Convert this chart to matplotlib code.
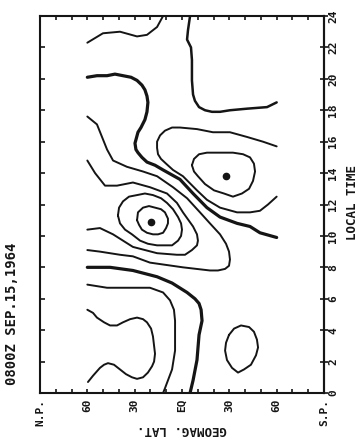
import matplotlib
matplotlib.use("Agg")
import matplotlib.pyplot as plt
import numpy as np

# Contours: geomagnetic latitude (deg, + north), local time (h)
lat_a = [60, 50.1, 39.3, 28.5, 22.2, 15.8, 12.0]
lt_a = [22.3, 22.9, 23.0, 22.7, 22.8, 23.3, 24.0]

lat_b = [60, 53.9, 47.5, 42.5, 37.4, 32.3, 28.5, 25.4, 23.5, 22.2, 21.6, 22.2, 23.5,
         26.0, 27.9, 29.8, 29.2, 27.9, 25.4, 22.2, 17.1, 12.0, 1.3,
         -7.0, -15.8, -24.1, -34.9, -43.1, -49.4, -60]
lt_b = [20.1, 20.2, 20.2, 20.3, 20.2, 20.1, 19.9, 19.6, 19.3, 18.9, 18.5, 17.9, 17.4,
        16.9, 16.6, 15.9, 15.5, 15.3, 15.0, 14.7, 14.5, 14.2, 13.6,
        12.7, 11.8, 11.2, 10.8, 10.6, 10.2, 9.9]

lat_c = [60, 53.9, 50.7, 47.5, 43.7, 34.9, 24.7, 15.8, 5.7, -3.2, -11.4, -17.7, -24.1,
         -27.9, -29.8, -30.4, -29.8, -27.3, -22.8, -17.7, -0.6, 20.3, 31.1, 39.3, 52.0, 60]
lt_c = [17.6, 17.1, 16.3, 15.5, 14.8, 14.4, 14.1, 13.8, 13.1, 12.4, 11.5, 10.8, 10.1,
        9.5, 9.0, 8.5, 8.1, 7.9, 7.8, 7.8, 8.0, 8.3, 8.7, 8.8, 9.0, 9.1]

lat_d = [60, 55.1, 48.8, 41.2, 31.1, 20.3, 9.5, 3.2, -0.6, -7.0, -9.5, -10.1, -9.5,
         -6.3, -1.9, 3.2, 15.8, 31.1, 43.7, 52.0, 60]
lt_d = [14.8, 14.0, 13.2, 13.2, 13.4, 13.1, 12.7, 12.1, 11.5, 10.6, 10.1, 9.7, 9.4,
        9.1, 8.8, 8.8, 8.9, 9.3, 10.1, 10.5, 10.4]

lat_e = [-60, -51.3, -41.2, -30.4, -19.6, -9.5, 1.3, 6.3, 10.8, 13.9, 15.8, 15.8, 15.2,
         13.3, 10.1, 5.7, -0.6, -9.5, -15.8, -24.1, -34.9, -43.1, -49.4, -54.5, -60]
lt_e = [15.7, 16.0, 16.3, 16.6, 16.6, 16.8, 16.9, 16.9, 16.7, 16.4, 16.0, 15.6, 15.2,
        14.9, 14.6, 14.2, 13.8, 12.9, 12.3, 11.8, 11.5, 11.5, 11.6, 12.0, 12.5]

lat_f = [-5.1, -3.8, -3.2, -5.7, -6.3, -6.3, -7.0, -8.2, -10.8, -14.6, -19.0, -24.1,
         -30.4, -41.2, -53.9, -60]
lt_f = [24.0, 23.1, 22.5, 22.0, 21.2, 19.9, 19.0, 18.6, 18.2, 18.0, 17.9, 17.9,
        18.0, 18.1, 18.2, 18.5]

lat_i = [60, 45.6, 31.1, 15.8, 6.3, -3.2, -8.2, -10.8, -12.1, -12.7, -10.8, -9.5, -7.0, -5.1]
lt_i = [8.0, 8.0, 7.8, 7.4, 7.0, 6.4, 6.0, 5.7, 5.3, 4.6, 3.7, 2.1, 0.8, 0.0]

lat_j = [60, 47.5, 34.9, 20.3, 12.0, 7.6, 5.1, 4.4, 4.4, 6.3, 10.8, 12.0]
lt_j = [6.9, 6.7, 6.7, 6.7, 6.4, 5.9, 5.3, 4.6, 2.7, 1.5, 0.3, 0.0]

lat_k = [60, 56.4, 53.9, 49.4, 45.6, 41.2, 37.4, 32.9, 28.5, 24.7, 22.2, 19.6, 18.4,
         17.1, 17.7, 19.0, 21.6, 24.7, 28.5, 31.7, 35.5, 39.3, 43.1, 46.9, 49.4, 52.0,
         56.4, 59.6]
lt_k = [5.3, 5.1, 4.8, 4.5, 4.3, 4.3, 4.5, 4.7, 4.8, 4.7, 4.5, 4.1, 3.6,
        2.5, 2.0, 1.7, 1.3, 1.0, 0.9, 1.0, 1.2, 1.5, 1.8, 1.9, 1.8, 1.6,
        1.1, 0.7]

# closed loops
lat_loop1 = [40.6, 39.9, 37.4, 33.6, 28.5, 23.5, 18.4, 13.3, 9.5, 5.7, 2.5, 0.6, 0.0,
             0.6, 2.5, 6.3, 10.8, 15.8, 21.6, 26.6, 31.7, 36.1, 39.3, 40.6]
lt_loop1 = [11.3, 11.8, 12.2, 12.5, 12.6, 12.7, 12.6, 12.4, 12.1, 11.7, 11.2, 10.8, 10.4,
            10.0, 9.7, 9.4, 9.4, 9.4, 9.5, 9.7, 10.1, 10.4, 10.8, 11.3]

lat_loop2 = [28.5, 27.9, 24.7, 20.9, 17.1, 13.3, 10.8, 8.9, 8.9, 10.1, 12.0, 15.2,
             18.4, 22.2, 25.4, 27.2, 28.5]
lt_loop2 = [11.0, 11.5, 11.8, 11.9, 11.8, 11.7, 11.5, 11.1, 10.8, 10.5, 10.2, 10.1,
            10.1, 10.2, 10.4, 10.7, 11.0]

lat_loop3 = [-6.3, -7.6, -10.8, -15.8, -24.1, -32.3, -38.7, -43.1, -45.6, -46.3, -45.0,
             -42.5, -38.0, -32.3, -26.6, -20.3, -14.6, -10.1, -7.6, -6.3]
lt_loop3 = [14.5, 14.9, 15.2, 15.3, 15.3, 15.3, 15.2, 15.0, 14.6, 14.1, 13.5,
            13.0, 12.7, 12.5, 12.7, 12.9, 13.3, 13.8, 14.1, 14.5]

lat_loop4 = [-29.8, -33.0, -37.4, -42.5, -45.6, -47.5, -48.2, -46.9, -43.7, -39.3,
             -35.5, -31.7, -28.5, -27.3, -27.9, -29.8]
lt_loop4 = [3.7, 4.1, 4.3, 4.2, 3.9, 3.4, 2.9, 2.4, 1.8, 1.5,
            1.3, 1.6, 2.1, 2.7, 3.2, 3.7]

# extrema
dot_lat = [19.6, -27.9]
dot_lt = [10.9, 13.8]

lat_ticks = [90, 60, 30, 0, -30, -60, -90]
lat_labels = ["N.P.", "60", "30", "EQ", "30", "60", "S.P."]
lt_ticks = list(range(0, 25, 2))

ink = "#151515"
font = dict(family="DejaVu Sans Mono", weight="bold", color=ink)

fig = plt.figure(figsize=(3.59, 4.38), dpi=100)
ax = fig.add_axes([40 / 359, 1 - 393 / 438, 284 / 359, 377 / 438])

thin = [(lat_a, lt_a), (lat_c, lt_c), (lat_d, lt_d), (lat_e, lt_e), (lat_j, lt_j),
        (lat_k, lt_k), (lat_loop1, lt_loop1), (lat_loop2, lt_loop2),
        (lat_loop3, lt_loop3), (lat_loop4, lt_loop4)]
for la, lt in thin:
    ax.plot(la, lt, color=ink, lw=1.4, solid_capstyle="round", solid_joinstyle="round")
ax.plot(lat_f, lt_f, color=ink, lw=1.8, solid_capstyle="round", solid_joinstyle="round")
for la, lt in [(lat_b, lt_b), (lat_i, lt_i)]:
    ax.plot(la, lt, color=ink, lw=2.3, solid_capstyle="round", solid_joinstyle="round")
ax.plot(dot_lat, dot_lt, "o", color=ink, ms=4.5, ls="none")

ax.set_xlim(90, -90)
ax.set_ylim(0, 24)

ax.set_xticks(lat_ticks)
ax.set_xticklabels(lat_labels, rotation=90, fontsize=8, **font)
ax.set_xticks(np.arange(-80, 90, 10), minor=True)
ax.tick_params(axis="x", which="both", direction="in", top=True, bottom=True,
               length=3, width=1.2, color=ink, pad=4)

# left side: inward ticks only
ax.set_yticks(lt_ticks)
ax.tick_params(axis="y", direction="in", left=True, right=False, labelleft=False,
               length=3.5, width=1.2, color=ink)

# right side: crossing ticks with the local time labels
sec = ax.secondary_yaxis("right")
sec.set_yticks(lt_ticks)
sec.set_yticklabels([str(t) for t in lt_ticks], rotation=90, fontsize=8,
                    va="center", **font)
sec.tick_params(axis="y", direction="inout", length=6, width=1.2, color=ink, pad=0)
sec.spines["right"].set_linewidth(1.5)
sec.spines["right"].set_color(ink)

for s in ax.spines.values():
    s.set_linewidth(1.5)
    s.set_color(ink)

fig.text(352 / 359, 1 - 203 / 438, "LOCAL TIME", rotation=90, fontsize=9,
         ha="center", va="center", **font)
fig.text(182 / 359, 1 - 430 / 438, "GEOMAG. LAT.", rotation=180, fontsize=9,
         ha="center", va="center", **font)
fig.text(12 / 359, 1 - 314 / 438, "0800Z SEP.15,1964", rotation=90, fontsize=10,
         ha="center", va="center", **font)

fig.savefig("out.png", dpi=100, facecolor="white")
